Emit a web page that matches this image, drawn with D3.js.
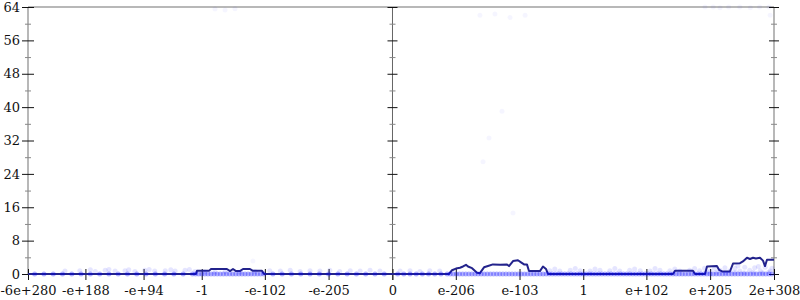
<!DOCTYPE html>
<html>
<head>
<meta charset="utf-8">
<script src="https://cdn.jsdelivr.net/npm/d3@7"></script>
<style>
  body { margin: 0; background: #fff; }
  svg { display: block; }
</style>
</head>
<body>
<svg id="chart"></svg>
<script>
// ticks on the float axis, placed on the floats they name
var xTickValues = [-6e280, -1e188, -1e94, -1, -1e-102, -1e-205, 0, 1e-206, 1e-103, 1, 1e102, 1e205, 1.7976931348623157e308];
var xTickLabels = ["-6e+280", "-e+188", "-e+94", "-1", "-e-102", "-e-205", "0", "e-206", "e-103", "1", "e+102", "e+205", "2e+308"];
var yTickValues = [0, 8, 16, 24, 32, 40, 48, 56, 64];
var yMinorValues = [4, 12, 20, 28, 36, 44, 52, 60];

// smoothed line
var lineX = [-6e280, -2e9, -5e7, -2e-12, -1e-15, -2e-41, -2e-46, -3e-51, -5e-56, -2e-62, -2e-67, -1e-78, -2e-83, -4e-98, -2.5e-101, 0,
  1e-217, 8e-213, 2e-206, 6e-200, 5e-195, 3e-190, 5e-187, 2e-180, 2e-172, 1e-167, 4e-161, 1e-154, 1e-146, 3e-135, 6e-124, 1e-120,
  3e-114, 3e-106, 2.5e-101, 2e-96, 1e-91, 2e-88, 1e-70, 8e-66, 6e-61, 1e-57, 1e145, 2e148, 2e177, 4e180, 5e196, 1e200, 1e216,
  2.5e219, 2e224, 1e237, 1e242, 2e253, 1e258, 4e264, 3e269, 2e274, 1e279, 4e285, 3e290, 5e293, 8e296, 1.7976931348623157e308];
var lineY = [0, 0, 0.75, 0.75, 1.2, 1.2, 0.7, 1.2, 0.7, 0.7, 1.2, 1.2, 0.75, 0.75, 0, 0,
  0, 0.9, 1.3, 1.5, 1.8, 2.2, 1.8, 1.4, 0.3, 0.2, 1.6, 1.9, 2.3, 2.2, 2.3, 1.9,
  3.1, 3.3, 2.8, 2.3, 2.3, 0.7, 0.7, 1.8, 1.2, 0, 0, 0.8, 0.8, 0, 0, 1.8, 1.9,
  1.0, 0.6, 0.6, 2.5, 2.6, 3.0, 3.9, 3.6, 3.9, 3.7, 3.9, 3.2, 1.9, 3.4, 3.4];

// samples sitting on zero
var zeroDotX = [-1e270, -1e255, -1e240, -1e225, -1e210, -1e195, -1e180, -1e165, -1e150, -1e135, -1e120, -1e105, -1e90, -1e75, -1e60, -1e45, -1e30, -1e15,
  -1e10, -1e5, -1, -1e-5, -1e-10, -1e-15, -1e-20, -1e-25, -1e-30, -1e-35, -1e-40, -1e-45, -1e-50, -1e-55, -1e-60, -1e-65, -1e-70, -1e-75, -1e-80, -1e-85, -1e-90, -1e-95, -1e-100,
  -1e-115, -1e-130, -1e-145, -1e-160, -1e-175, -1e-190, -1e-205, -1e-220, -1e-235, -1e-250, -1e-265, -1e-280, -1e-295,
  1e-300, 1e-290, 1e-280, 1e-270, 1e-260, 1e-250, 1e-240, 1e-230, 1e-220,
  1e-215, 1e-210, 1e-205, 1e-200, 1e-195, 1e-190, 1e-185, 1e-180, 1e-175, 1e-170, 1e-165, 1e-160, 1e-155, 1e-150, 1e-145, 1e-140,
  1e-135, 1e-130, 1e-125, 1e-120, 1e-115, 1e-110, 1e-105, 1e-100, 1e-95, 1e-90, 1e-85, 1e-80, 1e-75, 1e-70, 1e-65, 1e-60, 1e-55,
  1e-50, 1e-45, 1e-40, 1e-35, 1e-30, 1e-25, 1e-20, 1e-15, 1e-10, 1e-5, 1, 1e5, 1e10, 1e15, 1e20, 1e25, 1e30, 1e35, 1e40, 1e45,
  1e50, 1e55, 1e60, 1e65, 1e70, 1e75, 1e80, 1e85, 1e90, 1e95, 1e100, 1e105, 1e110, 1e115, 1e120, 1e125, 1e130, 1e135, 1e140,
  1e145, 1e150, 1e155, 1e160, 1e165, 1e170, 1e175, 1e180, 1e185, 1e190, 1e195, 1e200, 1e205, 1e210, 1e215, 1e220, 1e225, 1e230,
  1e235, 1e240, 1e245, 1e250, 1e255, 1e260, 1e265, 1e270, 1e275, 1e280, 1e285, 1e290, 1e295, 1e300, 1e305];

// faint samples just above zero
var bandDots = [[-1e221, 0.7], [-1e197, 0.8], [-1e172, 0.6], [-1e156, 0.9], [-1e140, 0.7], [-1e124, 0.8], [-1e108, 0.6], [-1e92, 0.9],
  [-1e76, 0.7], [-1e59, 0.8], [-1e43, 0.7], [-1e27, 0.9], [-1e11, 0.6], [-1e-5, 0.5], [-1e-21, 0.5], [-1e-38, 0.6], [-1e-62, 0.5],
  [-1e-86, 0.6], [-1e-110, 0.8], [-1e-127, 0.7], [-1e-143, 0.9], [-1e-159, 0.6], [-1e-175, 0.8], [-1e-191, 0.7], [-1e-207, 0.9],
  [-1e-223, 0.6], [-1e-240, 0.8], [-1e-256, 0.7], [-1e-272, 0.9], [-1e-288, 0.7],
  [-1e180, 1.0], [-1e150, 1.1], [-1e118, 1.0], [-1e85, 1.1], [-1e50, 1.0], [-1e20, 1.1],
  [1e-296, 0.7], [1e-280, 0.8], [1e-264, 0.6], [1e-248, 0.8], [1e-232, 0.7],
  [1e-54, 0.8], [1e-38, 0.7], [1e-21, 0.9], [1e-5, 0.8], [1e11, 0.7], [1e27, 0.9], [1e43, 0.8], [1e59, 0.7], [1e75, 0.9],
  [1e92, 0.8], [1e108, 0.7], [1e124, 0.9], [1e140, 0.8], [1e156, 0.7], [1e172, 0.9], [1e188, 0.8], [1e205, 0.7], [1e221, 0.9],
  [1e237, 0.8], [1e253, 0.7], [1e269, 0.9], [1e286, 0.8], [1e302, 0.7],
  [1e-46, 1.2], [1e-13, 1.3], [1e19, 1.2], [1e51, 1.3], [1e83, 1.2], [1e116, 1.3], [1e148, 1.2], [1e180, 1.3], [1e196, 1.4],
  [1e212, 1.3], [1e229, 1.5], [1e245, 1.4], [1e261, 1.6], [1e277, 1.5], [1e294, 1.6], [1e305, 1.4],
  [1e200, 0.4], [1e215, 0.4], [1e230, 0.3], [1e245, 0.4], [1e260, 0.3], [1e275, 0.4], [1e290, 0.3], [1e300, 0.4], [1e250, 1.9], [1e283, 1.8]];

// stray samples higher up
var sparseDots = [[-4e-22, 63.5], [-2e-38, 63.3], [-2e-54, 63.6], [-1.6e-83, 3.1],
  [1e-167, 62], [2e-143, 62.3], [4e-119, 61.5], [1e-94, 62],
  [5e-132, 39], [5e-153, 32.6], [1e-162, 26.9], [3e-114, 14.6],
  [5e196, 64], [1e210, 64], [1e221, 63.8], [1e235, 64], [1e253, 64], [1e270, 63.8], [1e285, 64], [1e300, 64], [1e302, 62]];

var W = 800, H = 300;
var margin = {top: 7, right: 774, bottom: 274, left: 28};
var FONT = "DejaVu Serif";

// floats are spread by signed decade, everything below the smallest normal sits on 0
var OFFSET = 308.3;
function toU(v) {
  if (v === 0) return 0;
  var m = Math.log10(Math.abs(v)) + OFFSET;
  if (m < 0) m = 0;
  return Math.sign(v) * m;
}

var xu = d3.scaleLinear()
    .domain([toU(xTickValues[0]), toU(xTickValues[xTickValues.length - 1])])
    .range([margin.left, margin.right]);
function x(v) { return xu(toU(v)); }

var y = d3.scaleLinear().domain([0, 64]).range([margin.bottom, margin.top]);

var svg = d3.select("#chart").attr("width", W).attr("height", H);

// frame lines
svg.append("line")
    .attr("x1", margin.left).attr("x2", margin.right).attr("y1", margin.top).attr("y2", margin.top)
    .attr("stroke", "#b8b8b8").attr("stroke-width", 2);
svg.append("line")
    .attr("x1", margin.left).attr("x2", margin.left).attr("y1", margin.top).attr("y2", margin.bottom)
    .attr("stroke", "#b8b8b8").attr("stroke-width", 2);
svg.append("line")
    .attr("x1", margin.right).attr("x2", margin.right).attr("y1", margin.top).attr("y2", margin.bottom)
    .attr("stroke", "#b8b8b8").attr("stroke-width", 2);
svg.append("line")
    .attr("x1", x(0)).attr("x2", x(0)).attr("y1", margin.top).attr("y2", margin.bottom + 6)
    .attr("stroke", "#666").attr("stroke-width", 1);

// vertical axes: major ticks cross the line, minor ticks are short and grey
function vAxis(px, major, minor, labels) {
  var g = svg.append("g").attr("transform", "translate(" + px + ",0)")
    .call(d3.axisLeft(y).tickValues(yTickValues).tickSize(6).tickPadding(2)
      .tickFormat(labels ? d3.format("d") : ""));
  g.select(".domain").remove();
  g.selectAll(".tick line").attr("x1", major[0]).attr("x2", major[1]).attr("stroke", "#111");
  g.selectAll("text").attr("font-family", FONT).attr("font-size", 13).attr("fill", "#111");

  var gm = svg.append("g").attr("transform", "translate(" + px + ",0)")
    .call(d3.axisLeft(y).tickValues(yMinorValues).tickFormat(""));
  gm.select(".domain").remove();
  gm.selectAll(".tick line").attr("x1", minor[0]).attr("x2", minor[1]).attr("stroke", "#888");
}
vAxis(margin.left, [-6, 6], [-3, 3], true);
vAxis(x(0), [-5, 5], [-3, 3], false);
vAxis(margin.right, [-5, 5], [-3, 3], false);

// bottom axis
var gx = svg.append("g").attr("transform", "translate(0," + margin.bottom + ")")
  .call(d3.axisBottom(xu).tickValues(xTickValues.map(toU)).tickSize(6).tickPadding(6)
    .tickFormat(function(d, i) { return xTickLabels[i]; }));
gx.select(".domain").remove();
gx.selectAll(".tick line").attr("y1", -5).attr("y2", 6).attr("stroke", "#111");
gx.selectAll("text").attr("font-family", FONT).attr("font-size", 13).attr("fill", "#111");

// smoothed line
var pts = lineX.map(function(v, i) { return [v, lineY[i]]; });
svg.append("path")
    .datum(pts)
    .attr("fill", "none")
    .attr("stroke", "#23238c")
    .attr("stroke-width", 2)
    .attr("stroke-linejoin", "round")
    .attr("d", d3.line()
      .x(function(d) { return x(d[0]); })
      .y(function(d) { return y(d[1]); }));

// sample dots
svg.append("g").selectAll("circle")
  .data(zeroDotX)
  .join("circle")
    .attr("cx", function(d) { return x(d); })
    .attr("cy", y(0))
    .attr("r", 2.5)
    .attr("fill", "#0000ff")
    .attr("fill-opacity", 0.3);

svg.append("g").selectAll("circle")
  .data(bandDots)
  .join("circle")
    .attr("cx", function(d) { return x(d[0]); })
    .attr("cy", function(d) { return y(d[1]); })
    .attr("r", 2.5)
    .attr("fill", "#0000ff")
    .attr("fill-opacity", 0.1);

svg.append("g").selectAll("circle")
  .data(sparseDots)
  .join("circle")
    .attr("cx", function(d) { return x(d[0]); })
    .attr("cy", function(d) { return y(d[1]); })
    .attr("r", 2.5)
    .attr("fill", "#0000ff")
    .attr("fill-opacity", 0.04);
</script>
</body>
</html>
